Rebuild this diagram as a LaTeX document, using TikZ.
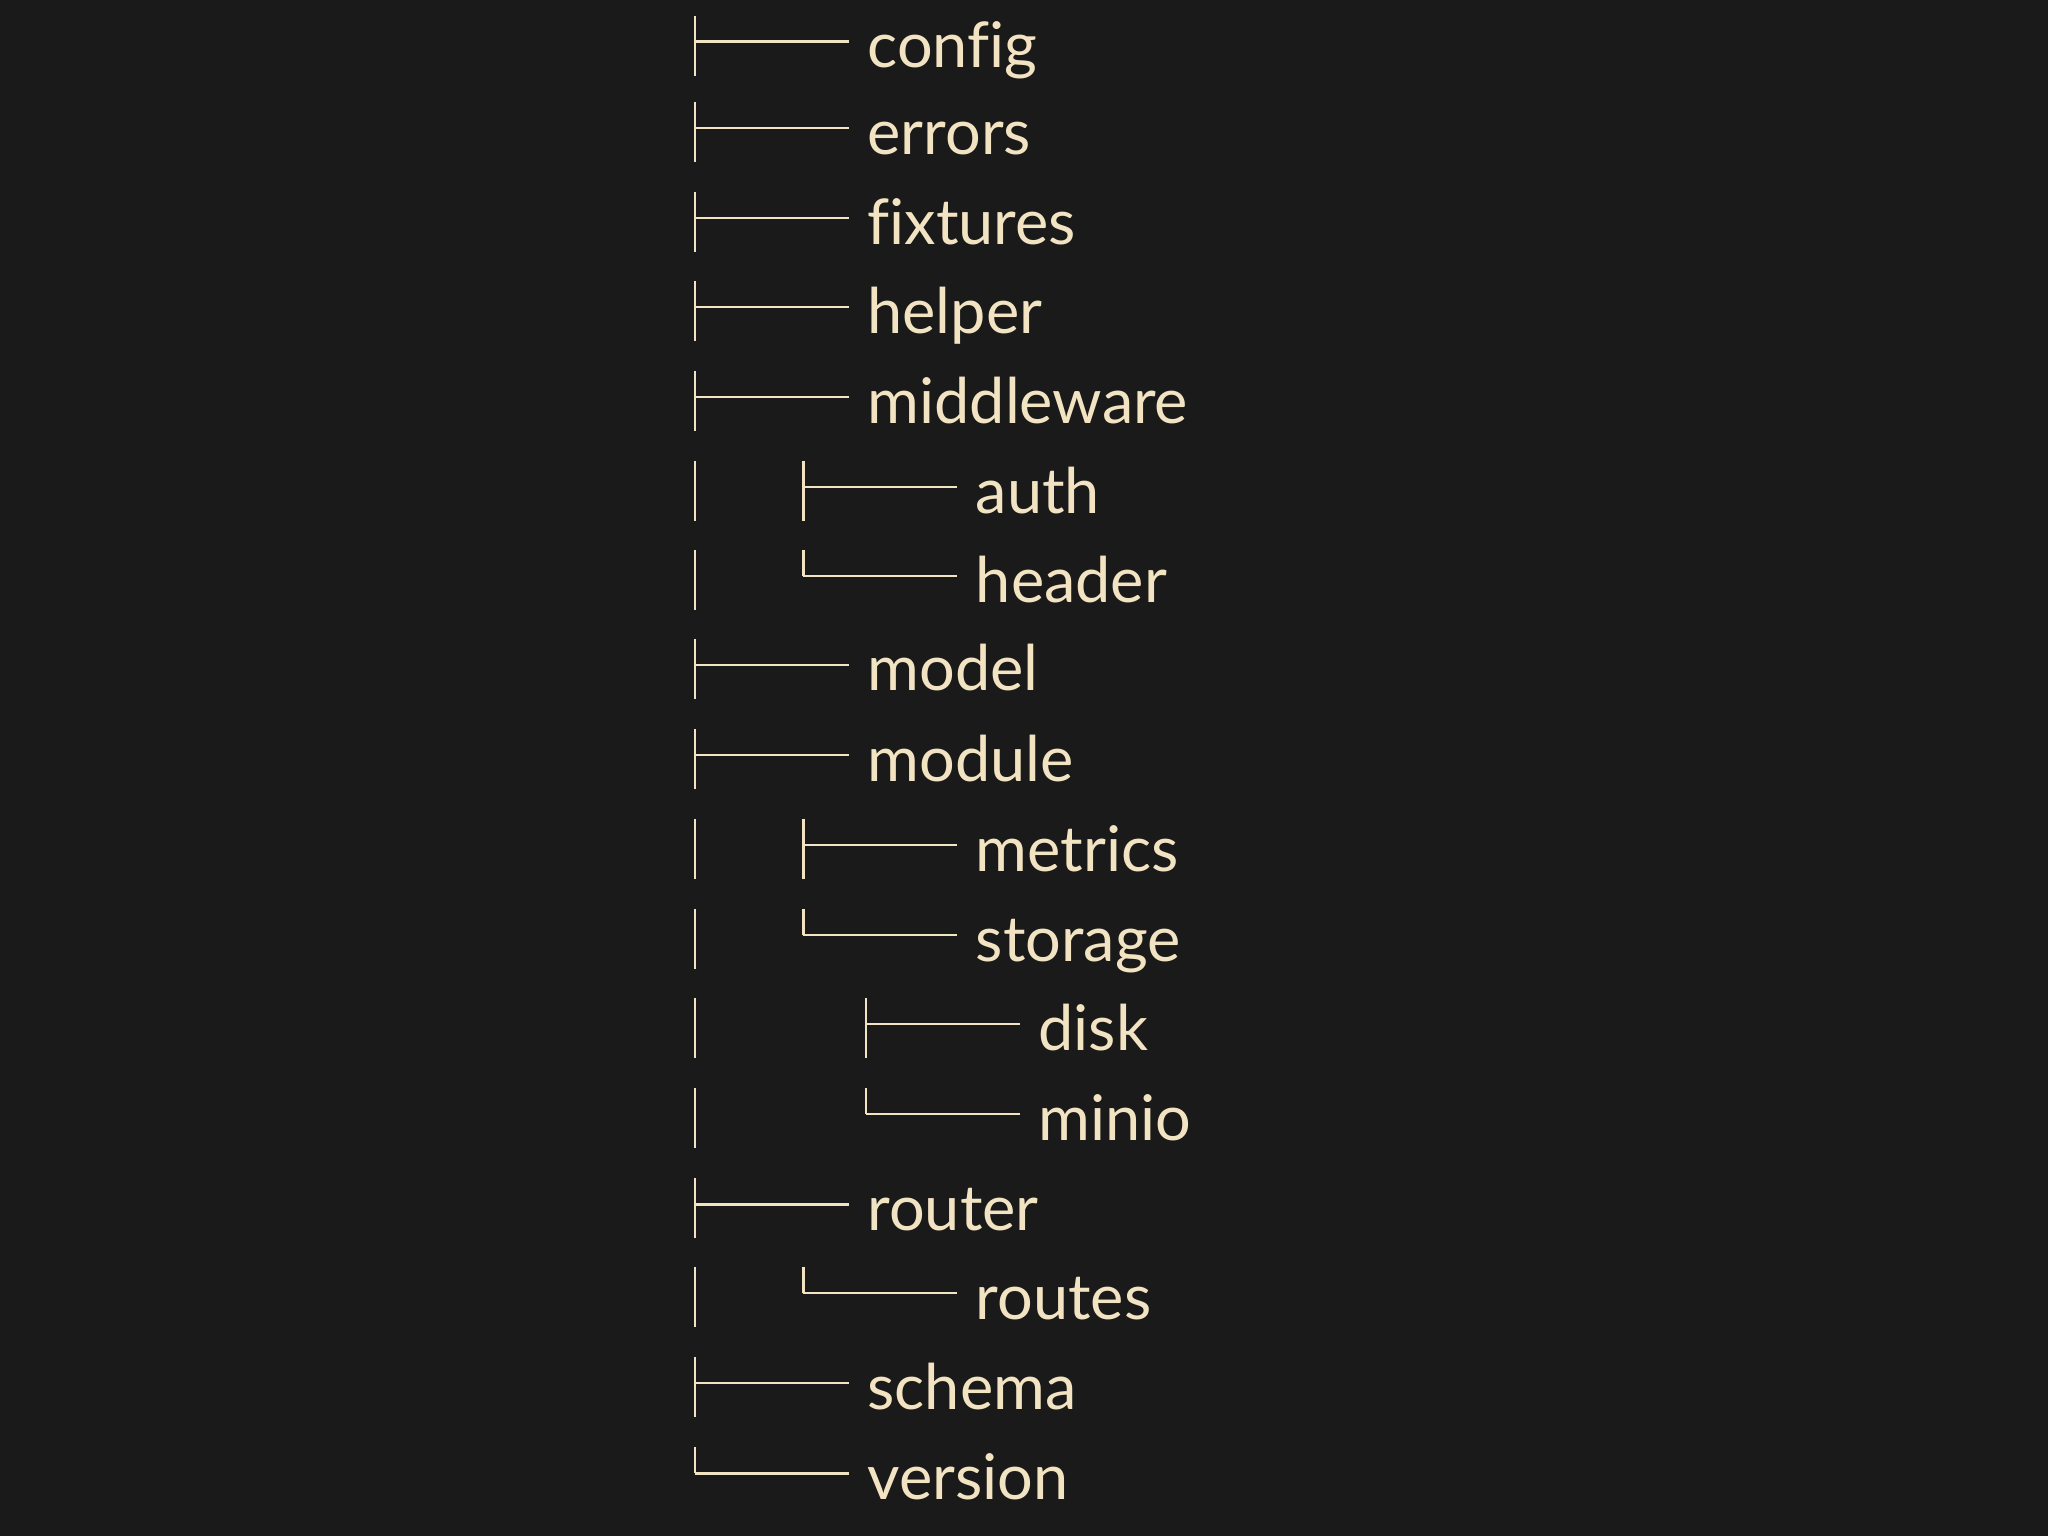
\documentclass[tikz,border=0pt]{standalone}
\usepackage{fontspec}
\setmainfont[Ligatures=NoCommon]{Lato}
\definecolor{bg}{HTML}{1A1A1A}
\definecolor{cream}{HTML}{F2E3C2}
\begin{document}
\begin{tikzpicture}[x=1.30612pt,y=-1.30612pt,
  treeline/.style={draw=cream,line width=2.6pt},
  lbl/.style={anchor=base west,inner sep=0pt,text=cream,font=\fontsize{63}{70}\selectfont}]
\fill[bg] (0,0) rectangle (1568,1176);
\useasboundingbox (0,0) rectangle (1568,1176);
\foreach \nm/\lv/\ty/\yy in {config/1/t/35,errors/1/t/101,fixtures/1/t/170,helper/1/t/238,middleware/1/t/307,auth/2/t/376,header/2/l/444,model/1/t/512,module/1/t/581,metrics/2/t/650,storage/2/l/719,disk/3/t/787,minio/3/l/856,router/1/t/925,routes/2/l/993,schema/1/t/1062,version/1/l/1131}{
  \ifnum\lv=1 \def\xx{532}\fi
  \ifnum\lv=2 \def\xx{615}\fi
  \ifnum\lv=3 \def\xx{663}\fi
  \coordinate (top-\nm) at (\xx,\yy-23);
  \coordinate (mid-\nm) at (\xx,\yy-3);
  \coordinate (bot-\nm) at (\xx,\yy+23);
  \coordinate (end-\nm) at (\xx+118,\yy-3);
  \node[lbl] (\nm) at (\xx+132,\yy+17) {\nm};
  \if t\ty
    \draw[treeline] (top-\nm) -- (bot-\nm);
  \else
    \draw[treeline] (top-\nm) -- (mid-\nm);
  \fi
  \draw[treeline] (mid-\nm) -- (end-\nm);
}
\foreach \nm/\yy in {auth/376,header/444,metrics/650,storage/719,disk/787,minio/856,routes/993}{
  \coordinate (pa-\nm) at (532,\yy-23);
  \coordinate (pb-\nm) at (532,\yy+23);
  \draw[treeline] (pa-\nm) -- (pb-\nm);
}
\end{tikzpicture}
\end{document}
